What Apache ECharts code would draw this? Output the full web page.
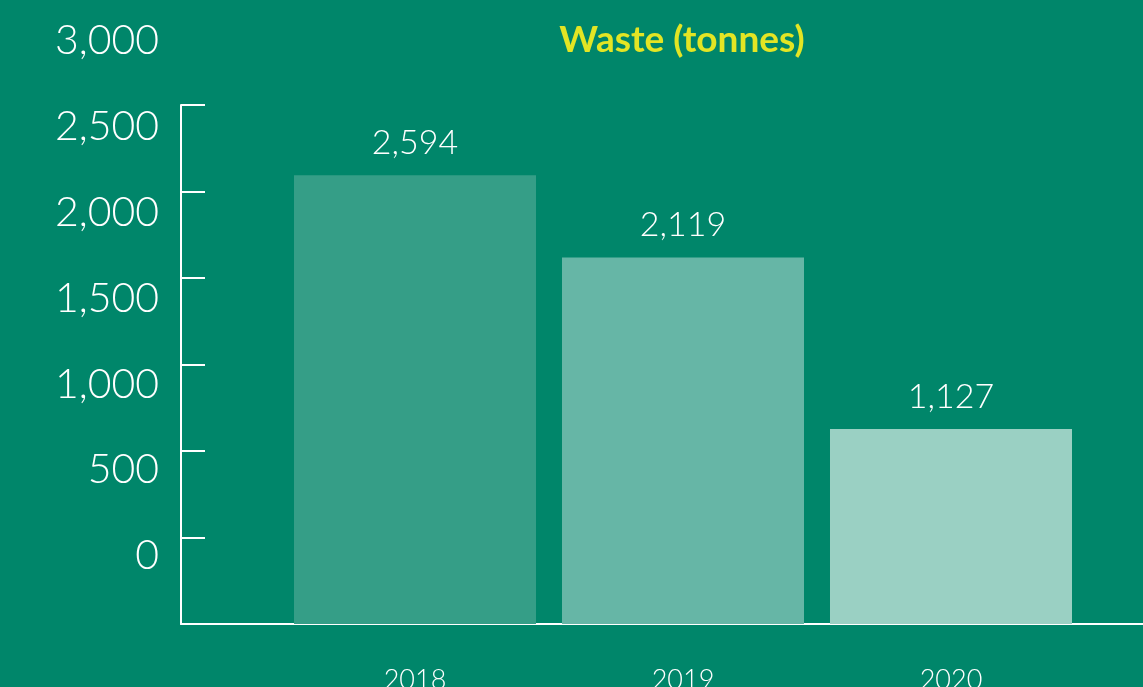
<!DOCTYPE html>
<html>
<head>
<meta charset="utf-8">
<script src="https://cdn.jsdelivr.net/npm/echarts@6/dist/echarts.min.js"></script>
<style>
  html, body { margin: 0; padding: 0; background: #00866A; }
  #chart { width: 1143px; height: 687px; }
</style>
</head>
<body>
<div id="chart"></div>
<script>
// Annual waste, tonnes
const years = ['2018', '2019', '2020'];
const wasteTonnes = [2594, 2119, 1127];
const barColors = ['#359E87', '#66B6A6', '#9AD0C3'];
const yTicks = [0, 500, 1000, 1500, 2000, 2500, 3000];

const chart = echarts.init(document.getElementById('chart'));
const fmt = v => v.toLocaleString('en-US');

chart.setOption({
  backgroundColor: '#00866A',
  animation: false,
  title: {
    text: 'Waste (tonnes)',
    left: 677, top: 17, textAlign: 'center',
    textStyle: { color: '#E3E524', fontFamily: 'Lato', fontWeight: 'bold', fontSize: 37 }
  },
  grid: [
    // frame: value axis with inner ticks and the baseline across the width
    { left: 181, right: 0, top: 105, bottom: 63, outerBoundsMode: 'none' },
    // bars
    { left: 281, width: 804, top: 105, bottom: 63, outerBoundsMode: 'none' },
    // tick labels, set higher than the tick marks
    { left: 181, right: 0, top: 41, bottom: 131, outerBoundsMode: 'none' }
  ],
  xAxis: [
    {
      gridIndex: 0, type: 'value', min: 0, max: 1,
      axisLine: { show: true, onZero: false, lineStyle: { color: '#FFFFFF', width: 2 } },
      axisTick: { show: false }, axisLabel: { show: false }, splitLine: { show: false }
    },
    {
      gridIndex: 1, type: 'category', data: years,
      axisLine: { show: false }, axisTick: { show: false },
      axisLabel: { color: '#FFFFFF', fontFamily: 'Lato', fontWeight: 300, fontSize: 27, margin: 43 }
    },
    { gridIndex: 2, type: 'value', min: 0, max: 1, show: false }
  ],
  yAxis: [
    {
      gridIndex: 0, type: 'value', min: 0, max: 3000, interval: 500,
      axisLine: { show: true, lineStyle: { color: '#FFFFFF', width: 2 } },
      axisTick: { show: true, inside: true, length: 24, lineStyle: { color: '#FFFFFF', width: 2 } },
      splitLine: { show: false },
      axisLabel: { show: false }
    },
    {
      gridIndex: 1, type: 'value', min: 0, max: 3000, show: false
    },
    {
      gridIndex: 2, type: 'value', min: 0, max: 3000, interval: 500,
      axisLine: { show: false }, axisTick: { show: false }, splitLine: { show: false },
      axisLabel: {
        color: '#FFFFFF', fontFamily: 'Lato', fontWeight: 300, fontSize: 41, margin: 22,
        formatter: v => yTicks.includes(v) ? fmt(v) : ''
      }
    }
  ],
  series: [{
    type: 'bar',
    xAxisIndex: 1, yAxisIndex: 1,
    barCategoryGap: '9.7%',
    data: wasteTonnes.map((v, i) => ({ value: v, itemStyle: { color: barColors[i] } })),
    label: {
      show: true, position: 'top', distance: 15,
      color: '#FFFFFF', fontFamily: 'Lato', fontWeight: 300, fontSize: 34,
      formatter: p => fmt(p.value)
    }
  }]
});
</script>
</body>
</html>
